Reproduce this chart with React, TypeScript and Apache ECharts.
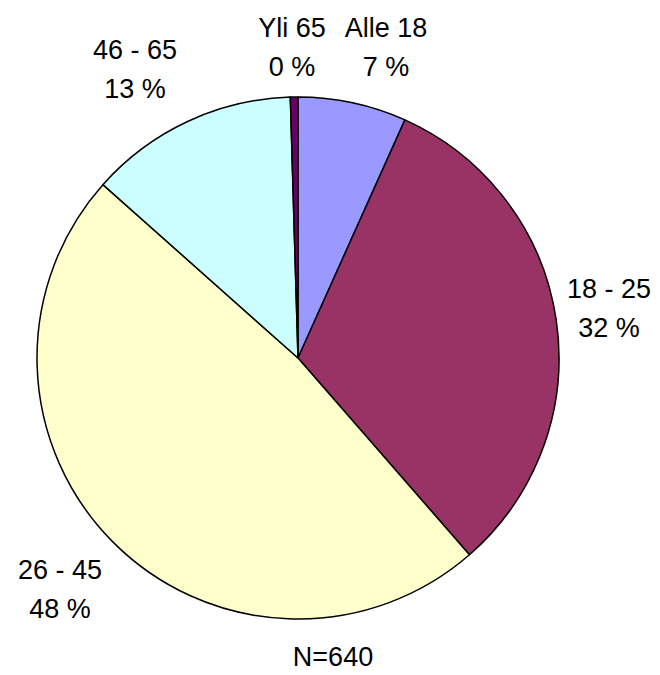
import React, { useEffect, useRef } from 'react';
import * as echarts from 'echarts';

const categories = ['Alle 18', '18 - 25', '26 - 45', '46 - 65', 'Yli 65'];
const counts = [43, 204, 307, 83, 3];
const sliceColors = ['#9999FF', '#993366', '#FFFFCC', '#CCFFFF', '#660066'];

// label block centres (layout, not data)
const labelCenters: number[][] = [
  [386, 47],
  [609, 308],
  [60, 589],
  [135, 69],
  [292, 47],
];

export default function App() {
  const ref = useRef<HTMLDivElement>(null);
  useEffect(() => {
    if (!ref.current) return;
    const chart = echarts.init(ref.current, null, { renderer: 'svg' });
    const total = counts.reduce((a, b) => a + b, 0);
    chart.setOption({
      animation: false,
      backgroundColor: '#ffffff',
      textStyle: { fontFamily: 'Liberation Sans, Arial, sans-serif' },
      graphic: [
        {
          type: 'text',
          x: 333,
          y: 657,
          style: {
            text: `N=${total}`,
            fill: '#000',
            font: '27px "Liberation Sans", Arial, sans-serif',
            textAlign: 'center',
            textVerticalAlign: 'middle',
          },
        },
      ],
      series: [
        {
          type: 'pie',
          center: [298, 358],
          radius: 261,
          startAngle: 90,
          clockwise: true,
          percentPrecision: 0,
          avoidLabelOverlap: false,
          data: categories.map((name, i) => ({
            name,
            value: counts[i],
            itemStyle: { color: sliceColors[i] },
          })),
          itemStyle: { borderColor: '#000', borderWidth: 1.5 },
          emphasis: { disabled: true },
          label: {
            show: true,
            position: 'outside',
            formatter: '{b}\n{d} %',
            color: '#000',
            fontSize: 27,
            lineHeight: 39,
            fontFamily: 'Liberation Sans, Arial, sans-serif',
            align: 'center',
          },
          labelLine: { show: false },
          labelLayout: (params: any) => {
            const c = labelCenters[params.dataIndex];
            return { x: c[0], y: c[1], align: 'center', verticalAlign: 'middle' };
          },
        },
      ],
    });
    return () => chart.dispose();
  }, []);
  return (
    <div
      ref={ref}
      style={{ position: 'absolute', left: 0, top: 0, width: 660, height: 675 }}
    />
  );
}
